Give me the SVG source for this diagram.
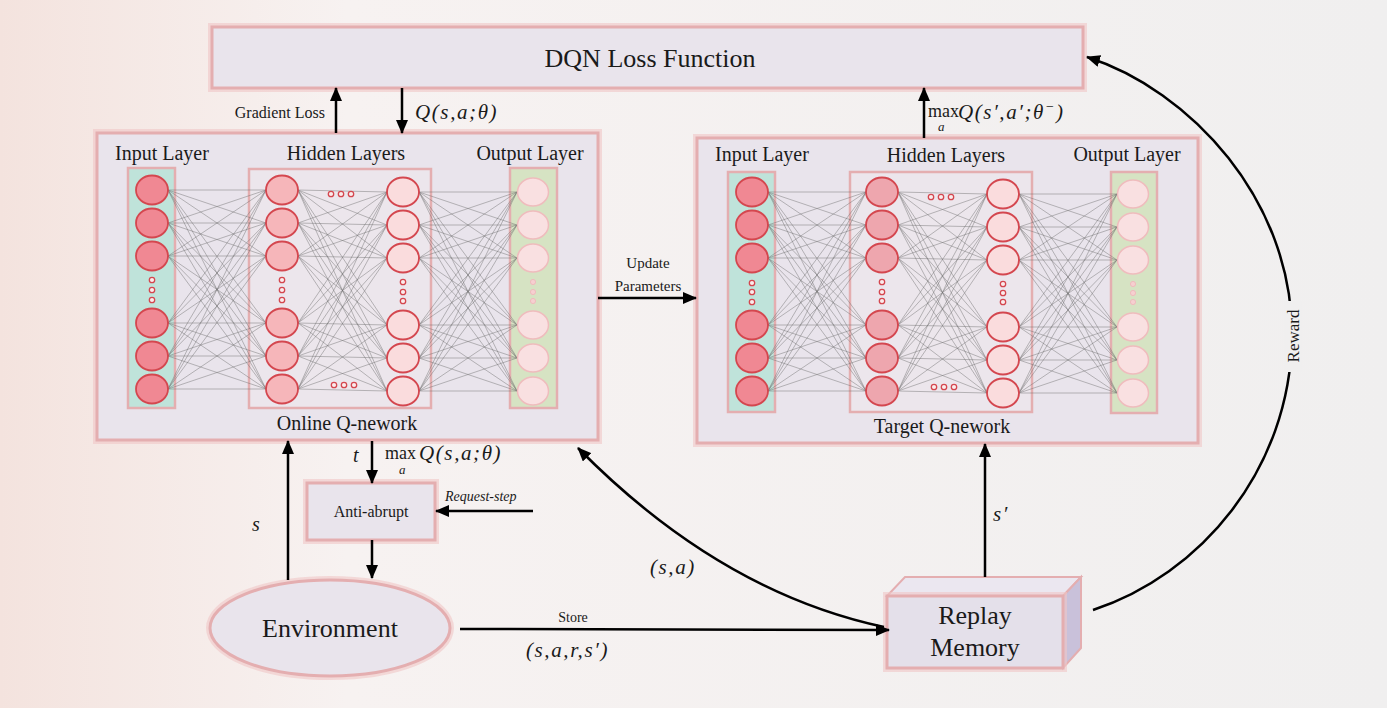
<svg xmlns="http://www.w3.org/2000/svg" xmlns:xlink="http://www.w3.org/1999/xlink" width="1387" height="708" viewBox="0 0 1387 708">
<style>
text{font-family:"Liberation Serif","Times New Roman",serif;fill:#1a1a1a}
.m{font-style:italic;letter-spacing:1.6px}
.box{fill:#e9e4ec;stroke:#e4aeb0;stroke-width:3}
.halo{fill:none;stroke:#f0c6c6;stroke-width:8;opacity:.6}
.inL{fill:#bfe3da;stroke:#e4aeb0;stroke-width:2.5}
.outL{fill:#d6e3c3;stroke:#e4aeb0;stroke-width:2.5}
.hid{fill:#ece6ec;stroke:#e4aeb0;stroke-width:2.5}
.n1{fill:#f08893;stroke:#d4474f;stroke-width:1.8}
.n2{fill:#f6b6ba;stroke:#d4474f;stroke-width:1.8}
.n2t{fill:#eea6ae;stroke:#d4474f;stroke-width:1.8}
.n3{fill:#fadcdd;stroke:#d4474f;stroke-width:1.8}
.no{fill:#f9e0e1;stroke:#efbcbd;stroke-width:1.5}
.dot{fill:#fbecec;stroke:#d4474f;stroke-width:1.3}
.dotL{fill:#f6cfd0;stroke:#efbcbd;stroke-width:1}
.wire{fill:none;stroke:#6d6d6d;stroke-width:.6;opacity:.75}
.arr{fill:none;stroke:#000;stroke-width:2.5;marker-end:url(#ah)}
</style>
<defs>
<linearGradient id="bg" x1="0" y1="0" x2="1" y2="0">
<stop offset="0" stop-color="#f4e3de"/>
<stop offset="0.25" stop-color="#f7f2f1"/>
<stop offset="1" stop-color="#f0efef"/>
</linearGradient>
<marker id="ah" markerUnits="userSpaceOnUse" markerWidth="14" markerHeight="12" refX="13" refY="6" orient="auto">
<path d="M0,0L14,6L0,12z" fill="#000"/>
</marker>
<path id="P1" class="wire" d="M0 190L98 190M0 190L98 223M0 190L98 256M0 190L98 323M0 190L98 356M0 190L98 389M0 223L98 190M0 223L98 223M0 223L98 256M0 223L98 323M0 223L98 356M0 223L98 389M0 256L98 190M0 256L98 223M0 256L98 256M0 256L98 323M0 256L98 356M0 256L98 389M0 323L98 190M0 323L98 223M0 323L98 256M0 323L98 323M0 323L98 356M0 323L98 389M0 356L98 190M0 356L98 223M0 356L98 256M0 356L98 323M0 356L98 356M0 356L98 389M0 389L98 190M0 389L98 223M0 389L98 256M0 389L98 323M0 389L98 356M0 389L98 389"/>
<path id="P2" class="wire" d="M0 190L89 192M0 190L89 225M0 190L89 258M0 190L89 325M0 190L89 358M0 190L89 391M0 223L89 192M0 223L89 225M0 223L89 258M0 223L89 325M0 223L89 358M0 223L89 391M0 256L89 192M0 256L89 225M0 256L89 258M0 256L89 325M0 256L89 358M0 256L89 391M0 323L89 192M0 323L89 225M0 323L89 258M0 323L89 325M0 323L89 358M0 323L89 391M0 356L89 192M0 356L89 225M0 356L89 258M0 356L89 325M0 356L89 358M0 356L89 391M0 389L89 192M0 389L89 225M0 389L89 258M0 389L89 325M0 389L89 358M0 389L89 391"/>
</defs>
<rect width="1387" height="708" fill="url(#bg)"/>

<g id="loss">
<rect class="halo" x="212" y="27" width="871" height="61"/>
<rect class="box" x="212" y="27" width="871" height="61"/>
<text x="650" y="67" font-size="26" text-anchor="middle">DQN Loss Function</text>
</g>

<g id="online">
<rect class="halo" x="97" y="133" width="501" height="307"/>
<rect class="box" x="97" y="133" width="501" height="307"/>
<text x="162" y="160" font-size="20" text-anchor="middle">Input Layer</text>
<text x="346" y="160" font-size="20" text-anchor="middle">Hidden Layers</text>
<text x="530" y="160" font-size="20" text-anchor="middle">Output Layer</text>
<text x="347" y="430" font-size="20" text-anchor="middle">Online Q-nework</text>
<rect class="hid" x="249" y="169" width="182" height="239"/>
<rect class="inL" x="128" y="168" width="47" height="240"/>
<rect class="outL" x="510" y="168" width="47" height="240"/>
<use xlink:href="#P1" transform="translate(168,0)"/>
<use xlink:href="#P2" transform="translate(298,0)"/>
<use xlink:href="#P1" transform="translate(419,2)"/>
<g class="n1"><ellipse cx="152" cy="190" rx="16" ry="14.5"/><ellipse cx="152" cy="223" rx="16" ry="14.5"/><ellipse cx="152" cy="256" rx="16" ry="14.5"/><ellipse cx="152" cy="323" rx="16" ry="14.5"/><ellipse cx="152" cy="356" rx="16" ry="14.5"/><ellipse cx="152" cy="389" rx="16" ry="14.5"/></g>
<g class="n2"><ellipse cx="282" cy="190" rx="16" ry="14.5"/><ellipse cx="282" cy="223" rx="16" ry="14.5"/><ellipse cx="282" cy="256" rx="16" ry="14.5"/><ellipse cx="282" cy="323" rx="16" ry="14.5"/><ellipse cx="282" cy="356" rx="16" ry="14.5"/><ellipse cx="282" cy="389" rx="16" ry="14.5"/></g>
<g class="n3"><ellipse cx="403" cy="192" rx="16" ry="14.5"/><ellipse cx="403" cy="225" rx="16" ry="14.5"/><ellipse cx="403" cy="258" rx="16" ry="14.5"/><ellipse cx="403" cy="325" rx="16" ry="14.5"/><ellipse cx="403" cy="358" rx="16" ry="14.5"/><ellipse cx="403" cy="391" rx="16" ry="14.5"/></g>
<g class="no"><ellipse cx="533" cy="192" rx="15.5" ry="14"/><ellipse cx="533" cy="225" rx="15.5" ry="14"/><ellipse cx="533" cy="258" rx="15.5" ry="14"/><ellipse cx="533" cy="325" rx="15.5" ry="14"/><ellipse cx="533" cy="358" rx="15.5" ry="14"/><ellipse cx="533" cy="391" rx="15.5" ry="14"/></g>
<g class="dot"><circle cx="152" cy="280" r="2.7"/><circle cx="152" cy="290" r="2.7"/><circle cx="152" cy="300" r="2.7"/><circle cx="282" cy="280" r="2.7"/><circle cx="282" cy="290" r="2.7"/><circle cx="282" cy="300" r="2.7"/><circle cx="403" cy="282" r="2.7"/><circle cx="403" cy="292" r="2.7"/><circle cx="403" cy="301" r="2.7"/><circle cx="331" cy="194" r="2.7"/><circle cx="341" cy="194" r="2.7"/><circle cx="351" cy="194" r="2.7"/><circle cx="334" cy="385" r="2.7"/><circle cx="344" cy="385" r="2.7"/><circle cx="354" cy="385" r="2.7"/></g>
<g class="dotL"><circle cx="533" cy="282" r="2.6"/><circle cx="533" cy="292" r="2.6"/><circle cx="533" cy="301" r="2.6"/></g>
</g>

<g id="target">
<rect class="halo" x="697" y="138" width="501" height="305"/>
<rect class="box" x="697" y="138" width="501" height="305"/>
<text x="762" y="161" font-size="20" text-anchor="middle">Input Layer</text>
<text x="946" y="162" font-size="20" text-anchor="middle">Hidden Layers</text>
<text x="1127" y="161" font-size="20" text-anchor="middle">Output Layer</text>
<text x="942" y="433" font-size="20" text-anchor="middle">Target Q-nework</text>
<rect class="hid" x="850" y="172" width="182" height="240"/>
<rect class="inL" x="728" y="172" width="47" height="240"/>
<rect class="outL" x="1111" y="172" width="46" height="241"/>
<use xlink:href="#P1" transform="translate(768,2)"/>
<use xlink:href="#P2" transform="translate(898,2)"/>
<use xlink:href="#P1" transform="translate(1019,4)"/>
<g class="n1"><ellipse cx="752" cy="192" rx="16" ry="14.5"/><ellipse cx="752" cy="225" rx="16" ry="14.5"/><ellipse cx="752" cy="258" rx="16" ry="14.5"/><ellipse cx="752" cy="325" rx="16" ry="14.5"/><ellipse cx="752" cy="358" rx="16" ry="14.5"/><ellipse cx="752" cy="391" rx="16" ry="14.5"/></g>
<g class="n2t"><ellipse cx="882" cy="192" rx="16" ry="14.5"/><ellipse cx="882" cy="225" rx="16" ry="14.5"/><ellipse cx="882" cy="258" rx="16" ry="14.5"/><ellipse cx="882" cy="325" rx="16" ry="14.5"/><ellipse cx="882" cy="358" rx="16" ry="14.5"/><ellipse cx="882" cy="391" rx="16" ry="14.5"/></g>
<g class="n3"><ellipse cx="1003" cy="194" rx="16" ry="14.5"/><ellipse cx="1003" cy="227" rx="16" ry="14.5"/><ellipse cx="1003" cy="260" rx="16" ry="14.5"/><ellipse cx="1003" cy="327" rx="16" ry="14.5"/><ellipse cx="1003" cy="360" rx="16" ry="14.5"/><ellipse cx="1003" cy="393" rx="16" ry="14.5"/></g>
<g class="no"><ellipse cx="1133" cy="194" rx="15.5" ry="14"/><ellipse cx="1133" cy="227" rx="15.5" ry="14"/><ellipse cx="1133" cy="260" rx="15.5" ry="14"/><ellipse cx="1133" cy="327" rx="15.5" ry="14"/><ellipse cx="1133" cy="360" rx="15.5" ry="14"/><ellipse cx="1133" cy="393" rx="15.5" ry="14"/></g>
<g class="dot"><circle cx="752" cy="283" r="2.7"/><circle cx="752" cy="292" r="2.7"/><circle cx="752" cy="302" r="2.7"/><circle cx="882" cy="282" r="2.7"/><circle cx="882" cy="292" r="2.7"/><circle cx="882" cy="301" r="2.7"/><circle cx="1003" cy="284" r="2.7"/><circle cx="1003" cy="293" r="2.7"/><circle cx="1003" cy="302" r="2.7"/><circle cx="931" cy="197" r="2.7"/><circle cx="941" cy="197" r="2.7"/><circle cx="951" cy="197" r="2.7"/><circle cx="934" cy="387" r="2.7"/><circle cx="944" cy="387" r="2.7"/><circle cx="954" cy="387" r="2.7"/></g>
<g class="dotL"><circle cx="1133" cy="284" r="2.6"/><circle cx="1133" cy="293" r="2.6"/><circle cx="1133" cy="302" r="2.6"/></g>
</g>

<g id="antiabrupt">
<rect class="halo" x="307" y="483" width="128" height="57"/>
<rect class="box" x="307" y="483" width="128" height="57"/>
<text x="371" y="517" font-size="16" text-anchor="middle">Anti-abrupt</text>
</g>

<g id="environment">
<ellipse class="halo" cx="330" cy="628" rx="120" ry="48"/>
<ellipse class="box" cx="330" cy="628" rx="120" ry="48"/>
<text x="330" y="637" font-size="26" text-anchor="middle">Environment</text>
</g>

<g id="replay">
<polygon points="887,596 905,577 1081,577 1063,596" fill="#ebe7f0" stroke="#e4aeb0" stroke-width="2"/>
<polygon points="1063,596 1081,577 1081,648 1063,668" fill="#c9c1da" stroke="#e4aeb0" stroke-width="2"/>
<rect class="halo" x="887" y="596" width="176" height="72"/>
<rect x="887" y="596" width="176" height="72" fill="#e4e0ea" stroke="#e4aeb0" stroke-width="3"/>
<text x="975" y="624" font-size="26" text-anchor="middle">Replay</text>
<text x="975" y="656" font-size="26" text-anchor="middle">Memory</text>
</g>

<g id="connectors">
<line class="arr" x1="336" y1="133" x2="336" y2="88"/>
<line class="arr" x1="402" y1="88" x2="402" y2="133"/>
<line class="arr" x1="924" y1="138" x2="924" y2="88"/>
<line class="arr" x1="598" y1="298" x2="696" y2="298"/>
<line class="arr" x1="288" y1="580" x2="288" y2="441"/>
<line class="arr" x1="372" y1="441" x2="372" y2="483"/>
<line class="arr" x1="533" y1="511" x2="436" y2="511"/>
<line class="arr" x1="372" y1="540" x2="372" y2="578"/>
<line class="arr" x1="460" y1="629" x2="889" y2="630"/>
<line class="arr" x1="985" y1="577" x2="985" y2="444"/>
<path class="arr" d="M884,627 Q720,592 578,448"/>
<path class="arr" d="M1093,610 C1200,575 1290,470 1292,337 C1293,200 1190,90 1087,57"/>
</g>

<g id="labels">
<text x="325" y="118" font-size="16" text-anchor="end">Gradient Loss</text>
<text x="415" y="119" font-size="21" class="m">Q(s,a;θ)</text>
<text x="928" y="117" font-size="18">max</text>
<text x="938" y="131" font-size="13" class="m">a</text>
<text x="958" y="119" font-size="21" class="m">Q(s′,a′;θ<tspan font-size="14" dy="-8">−</tspan><tspan dy="8">)</tspan></text>
<text x="648" y="268" font-size="15" text-anchor="middle">Update</text>
<text x="648" y="291" font-size="15" text-anchor="middle">Parameters</text>
<text x="353" y="462" font-size="20" class="m">t</text>
<text x="385" y="459" font-size="18">max</text>
<text x="399" y="474" font-size="13" class="m">a</text>
<text x="419" y="460" font-size="21" class="m">Q(s,a;θ)</text>
<text x="252" y="531" font-size="20" class="m">s</text>
<text x="445" y="501" font-size="14" font-style="italic">Request-step</text>
<text x="573" y="622" font-size="14" text-anchor="middle">Store</text>
<text x="526" y="657" font-size="21" class="m">(s,a,r,s′)</text>
<text x="650" y="574" font-size="21" class="m">(s,a)</text>
<text x="993" y="521" font-size="21" class="m">s′</text>
<rect x="1284" y="301" width="18" height="71" fill="#f0efef"/>
<text transform="translate(1299,336) rotate(-90)" font-size="17" text-anchor="middle">Reward</text>
</g>
</svg>
